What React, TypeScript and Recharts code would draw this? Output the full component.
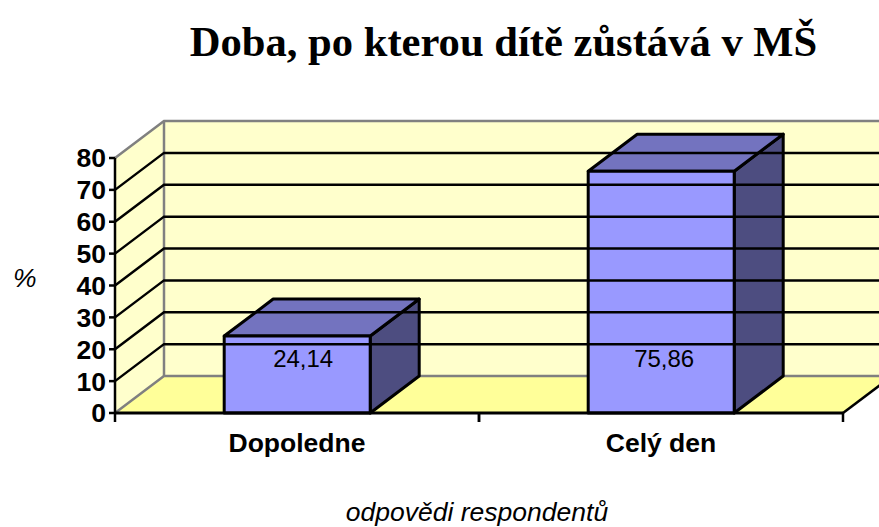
import React from 'react';
import { BarChart, Bar, XAxis, YAxis, ReferenceArea, ReferenceLine, LabelList } from 'recharts';

const categories = ['Dopoledne', 'Celý den'];
const values = [24.14, 75.86];
const yTicks = [0, 10, 20, 30, 40, 50, 60, 70, 80];
const gridValues = [10, 20, 30, 40, 50, 60, 70];
const rows = categories.map((name, i) => ({ name, value: values[i] }));

const DX = 49;
const DY = 37;
const SANS = '"Liberation Sans", Arial, sans-serif';
const SERIF = '"Liberation Serif", "Times New Roman", serif';
const LABEL_SHIFT = [6, 3];

const Walls = (p: any) => {
  const { x, y, width: w, height: h } = p;
  const b = y + h;
  return (
    <g>
      <polygon points={`${x + DX},${y - DY} ${x + w + DX},${y - DY} ${x + w + DX},${b - DY} ${x + DX},${b - DY}`} fill="#FFFFCC" />
      <polygon points={`${x},${y} ${x + DX},${y - DY} ${x + DX},${b - DY} ${x},${b}`} fill="#FFFFCC" />
      <polygon points={`${x},${b} ${x + DX},${b - DY} ${x + w + DX},${b - DY} ${x + w},${b}`} fill="#FFFF99" />
      <polyline points={`${x},${y} ${x + DX},${y - DY} ${x + w + DX},${y - DY}`} fill="none" stroke="#808080" strokeWidth={2.5} />
      <line x1={x + DX} y1={y - DY} x2={x + DX} y2={b - DY} stroke="#808080" strokeWidth={2.5} />
      <polyline points={`${x},${b} ${x + DX},${b - DY} ${x + w + DX},${b - DY}`} fill="none" stroke="#808080" strokeWidth={2.5} />
      <line x1={x + w} y1={b} x2={x + w + DX} y2={b - DY} stroke="#000" strokeWidth={2.5} />
    </g>
  );
};

const GridLine = (p: any) => {
  const { x1, y1, x2 } = p;
  return (
    <polyline
      points={`${x1},${y1} ${x1 + DX},${y1 - DY} ${x2 + DX},${y1 - DY}`}
      fill="none"
      stroke="#000"
      strokeWidth={2.5}
    />
  );
};

const Bar3D = (p: any) => {
  const { x, y, width: w, height: h } = p;
  const b = y + h;
  const stroke = { stroke: '#000', strokeWidth: 3, strokeLinejoin: 'round' as const };
  return (
    <g>
      <polygon points={`${x + w},${y} ${x + w + DX},${y - DY} ${x + w + DX},${b - DY} ${x + w},${b}`} fill="#4D4D80" {...stroke} />
      <polygon points={`${x},${y} ${x + DX},${y - DY} ${x + w + DX},${y - DY} ${x + w},${y}`} fill="#7373BF" {...stroke} />
      <rect x={x} y={y} width={w} height={h} fill="#9999FF" {...stroke} />
    </g>
  );
};

const BarValue = (p: any) => {
  const { x, y, width: w, height: h, value, index } = p;
  return (
    <text x={x + w / 2 + LABEL_SHIFT[index]} y={y + h - 55} textAnchor="middle" dominantBaseline="central" fontFamily={SANS} fontSize={24} fill="#000">
      {String(value).replace('.', ',')}
    </text>
  );
};

const CatTick = (p: any) => {
  const { x, y, payload } = p;
  const half = payload.offset ?? 182;
  return (
    <g>
      <line x1={x - half} y1={y - 8} x2={x - half} y2={y + 1} stroke="#000" strokeWidth={2.5} />
      <line x1={x + half} y1={y - 8} x2={x + half} y2={y + 1} stroke="#000" strokeWidth={2.5} />
      <text x={x} y={y + 31} textAnchor="middle" fontFamily={SANS} fontSize={26.5} fontWeight="bold" fill="#000">
        {payload.value}
      </text>
    </g>
  );
};

export default function App() {
  return (
    <div style={{ position: 'absolute', left: 0, top: 0, width: 879, height: 527, background: '#fff' }}>
      <BarChart
        width={879}
        height={527}
        data={rows}
        margin={{ top: 158, right: 36, bottom: 0, left: 0 }}
        barCategoryGap="30%"
      >
        <text x={503.5} y={56} textAnchor="middle" fontFamily={SERIF} fontSize={42.6} fontWeight="bold" fill="#000">
          Doba, po kterou dítě zůstává v MŠ
        </text>
        <ReferenceArea y1={0} y2={80} ifOverflow="visible" shape={<Walls />} />
        {gridValues.map((v) => (
          <ReferenceLine key={v} y={v} ifOverflow="visible" shape={<GridLine />} />
        ))}
        <XAxis
          dataKey="name"
          height={114}
          tickLine={false}
          axisLine={{ stroke: '#000', strokeWidth: 3 }}
          tick={<CatTick />}
          interval={0}
          label={{ value: 'odpovědi respondentů', position: 'insideBottom', offset: 6, dx: -2, fontFamily: SANS, fontSize: 26.5, fontStyle: 'italic', fill: '#000' }}
        />
        <YAxis
          width={115}
          domain={[0, 80]}
          ticks={yTicks}
          tickSize={6}
          tickMargin={3}
          interval={0}
          tickLine={{ stroke: '#000', strokeWidth: 2.5 }}
          axisLine={{ stroke: '#000', strokeWidth: 2.5 }}
          tick={{ fontFamily: SANS, fontSize: 26.5, fontWeight: 'bold', fill: '#000' }}
          label={{ value: '%', position: 'insideLeft', offset: 13, dy: -8, fontFamily: SANS, fontSize: 26.5, fontStyle: 'italic', fill: '#000' }}
        />
        <Bar dataKey="value" isAnimationActive={false} shape={<Bar3D />}>
          <LabelList dataKey="value" content={<BarValue />} />
        </Bar>
      </BarChart>
    </div>
  );
}
